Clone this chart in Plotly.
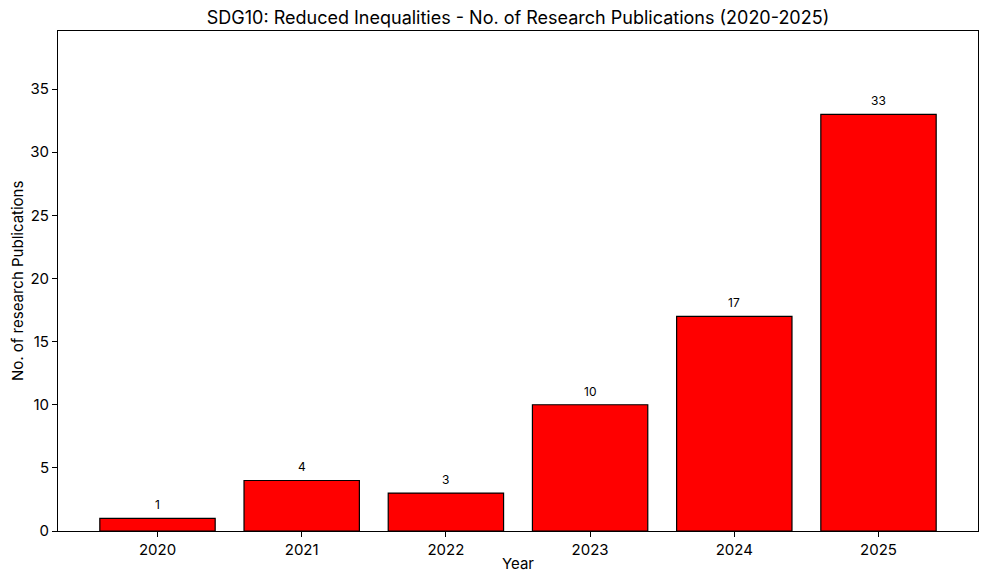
import plotly.graph_objects as go

years = ["2020", "2021", "2022", "2023", "2024", "2025"]
counts = [1, 4, 3, 10, 17, 33]
positions = list(range(len(years)))
y_ticks = [0, 5, 10, 15, 20, 25, 30, 35]

FONT = "Inter, Roboto, sans-serif"
W, H = 976, 565
L, R, T, B = 50, 6, 23, 42
PW, PH = W - L - R, H - T - B

fig = go.Figure()
fig.add_trace(go.Bar(
    x=positions,
    y=counts,
    width=0.8,
    marker=dict(color="#ff0000", line=dict(color="black", width=1.2)),
))

for xp, c in zip(positions, counts):
    fig.add_annotation(
        x=xp, y=c, text=str(c), showarrow=False,
        yanchor="bottom", yshift=4,
        font=dict(family=FONT, size=12, color="black"),
    )

# axis titles
fig.add_annotation(
    text="Year", xref="paper", yref="paper",
    x=0.5, y=(H - B - 555) / PH, xanchor="center", yanchor="middle",
    showarrow=False, font=dict(family=FONT, size=15, color="black"),
)
fig.add_annotation(
    text="No. of research Publications", xref="paper", yref="paper",
    x=(9 - L) / PW, y=0.5, xanchor="center", yanchor="middle", textangle=-90,
    showarrow=False, font=dict(family=FONT, size=15, color="black"),
)

fig.update_layout(
    width=W, height=H,
    margin=dict(l=L, r=R, t=T, b=B),
    paper_bgcolor="white",
    plot_bgcolor="white",
    showlegend=False,
    font=dict(family=FONT, color="black"),
    title=dict(
        text="SDG10: Reduced Inequalities - No. of Research Publications (2020-2025)",
        x=0.5, xref="paper", xanchor="center",
        y=1 - 10 / H, yref="container", yanchor="middle",
        font=dict(family=FONT, size=18, color="black"),
    ),
)

fig.update_xaxes(
    range=[-0.69, 5.69],
    tickvals=positions, ticktext=years,
    ticks="outside", ticklen=5, tickcolor="black",
    showline=True, linecolor="black", linewidth=1, mirror=True,
    showgrid=False, zeroline=False, automargin=False,
    tickfont=dict(family=FONT, size=15, color="black"),
)
fig.update_yaxes(
    range=[0, 39.6],
    tickvals=y_ticks,
    ticks="outside", ticklen=5, tickcolor="black",
    showline=True, linecolor="black", linewidth=1, mirror=True,
    showgrid=False, zeroline=False, automargin=False,
    tickfont=dict(family=FONT, size=15, color="black"),
)

fig.write_html("out.html")
